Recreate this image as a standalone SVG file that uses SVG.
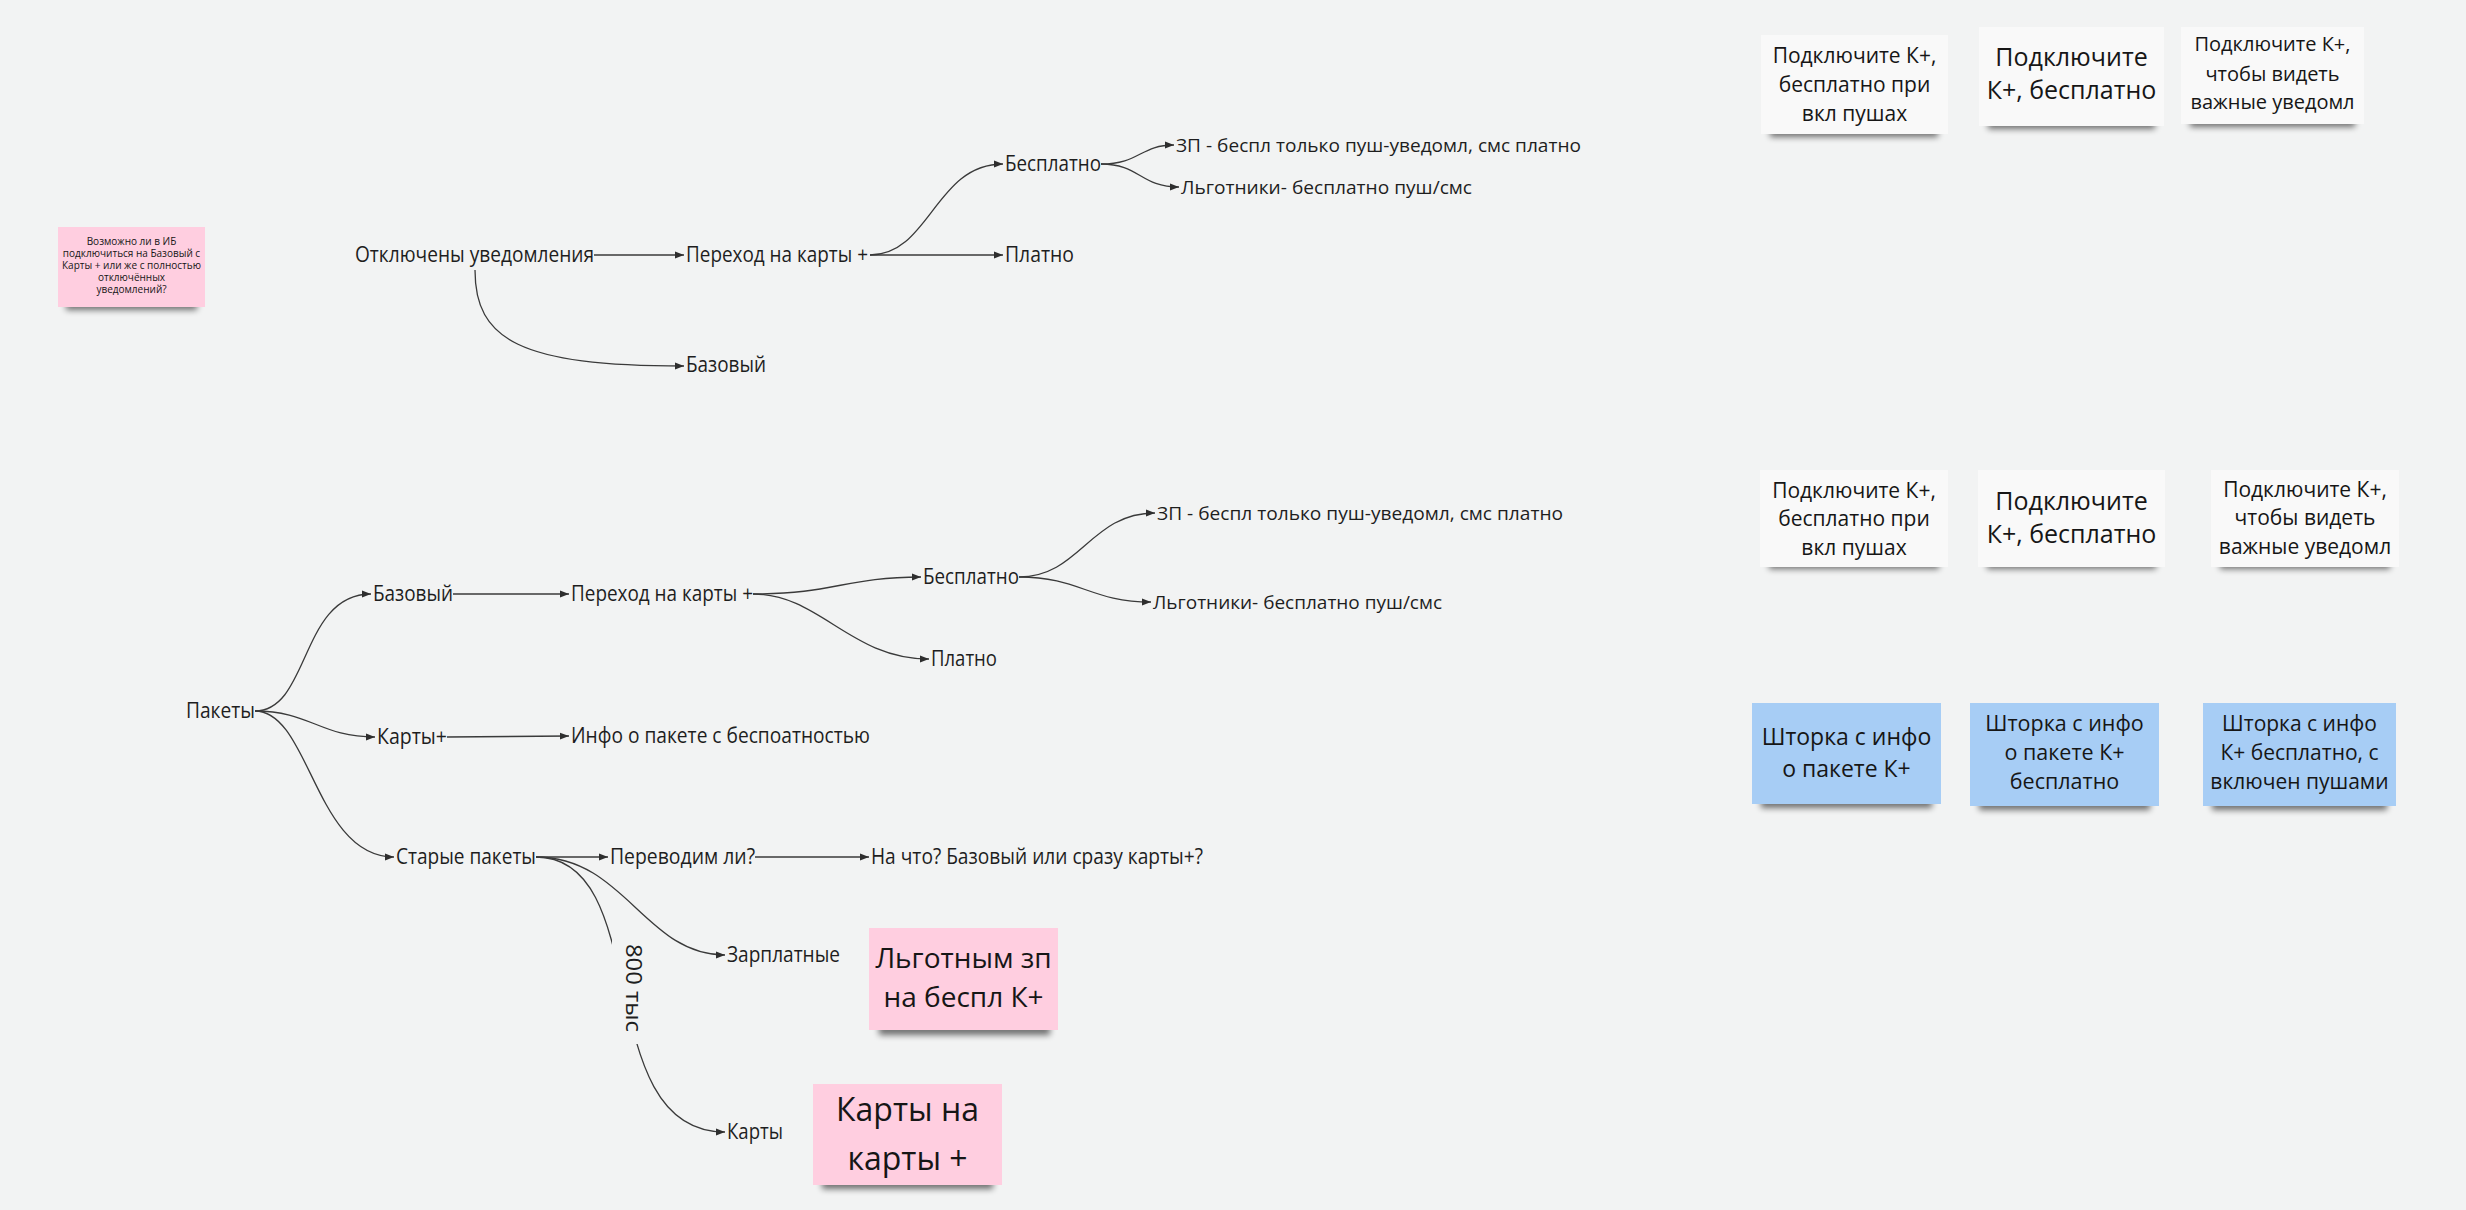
<svg xmlns="http://www.w3.org/2000/svg" width="2466" height="1210" viewBox="0 0 2466 1210">
<style>
.bg{fill:#f2f3f3}
.l{font-family:"Open Sans","Noto Sans",sans-serif;font-size:22px;fill:#1e1e1e}
.r{font-family:"Open Sans","Noto Sans",sans-serif;font-size:19px;fill:#1e1e1e}
.t{font-family:"Open Sans","Noto Sans",sans-serif;fill:#161616;text-anchor:middle}
.c{fill:none;stroke:#3a3a3a;stroke-width:1.3}
.a{marker-end:url(#ah)}
.w{fill:#f9f9f9}
.p{fill:#ffcee0}
.b{fill:#a7cdf5}
.s{fill:#000;opacity:.55;filter:url(#blur)}
</style>
<defs>
<marker id="ah" markerUnits="userSpaceOnUse" markerWidth="10" markerHeight="8" refX="9" refY="4" orient="auto"><path d="M0,0.6 L9,4 L0,7.4 z" fill="#2e2e2e"/></marker>
<filter id="blur" x="-20%" y="-100%" width="140%" height="300%"><feGaussianBlur stdDeviation="3"/></filter>
</defs>
<rect class="bg" x="0" y="0" width="2466" height="1210"/>

<g id="connectors">
<path class="c a" d="M594 255 L684 255"/>
<path class="c a" d="M870 255 C930 255 935 164 1003 164"/>
<path class="c a" d="M870 255 L1003 255"/>
<path class="c a" d="M475 270 C475 340 520 366 684 366"/>
<path class="c a" d="M1101 164 C1140 164 1140 145 1174 145"/>
<path class="c a" d="M1101 164 C1140 164 1140 187 1179 187"/>

<path class="c a" d="M255 711 C310 711 300 594 371 594"/>
<path class="c a" d="M255 711 C310 711 320 737 375 737"/>
<path class="c a" d="M255 711 C310 711 315 857 394 857"/>
<path class="c a" d="M453 594 L569 594"/>
<path class="c a" d="M753 594 C835 594 845 577 921 577"/>
<path class="c a" d="M753 594 C820 594 850 659 929 659"/>
<path class="c a" d="M1019 577 C1080 577 1090 513 1155 513"/>
<path class="c a" d="M1019 577 C1080 577 1090 602 1151 602"/>
<path class="c a" d="M447 737 L569 736"/>
<path class="c a" d="M536 857 L608 857"/>
<path class="c a" d="M755 857 L869 857"/>
<path class="c a" d="M536 857 C625 857 645 955 725 955"/>
<path class="c a" d="M536 857 C655 857 590 1132 725 1132"/>
<rect class="bg" x="612" y="936" width="38" height="108"/>
<text class="l" transform="translate(626,988) rotate(90)" text-anchor="middle" textLength="88" lengthAdjust="spacingAndGlyphs">800 тыс</text>
</g>

<g id="n-question">
<rect class="s" x="66" y="301" width="131" height="9"/>
<rect class="p" x="58" y="227" width="147" height="80"/>
<text class="t" font-size="10" x="131.5"><tspan x="131.5" y="245">Возможно ли в ИБ</tspan><tspan x="131.5" y="257">подключиться на Базовый с</tspan><tspan x="131.5" y="268.5">Карты + или же с полностью</tspan><tspan x="131.5" y="280.5">отключённых</tspan><tspan x="131.5" y="293">уведомлений?</tspan></text>
</g>

<g id="n-off"><text class="l" x="355" y="262" textLength="239" lengthAdjust="spacingAndGlyphs">Отключены уведомления</text></g>
<g id="n-go1"><text class="l" x="686" y="262" textLength="182" lengthAdjust="spacingAndGlyphs">Переход на карты +</text></g>
<g id="n-free1"><text class="l" x="1005" y="171" textLength="96" lengthAdjust="spacingAndGlyphs">Бесплатно</text></g>
<g id="n-paid1"><text class="l" x="1005" y="262" textLength="69" lengthAdjust="spacingAndGlyphs">Платно</text></g>
<g id="n-base1"><text class="l" x="686" y="372" textLength="80" lengthAdjust="spacingAndGlyphs">Базовый</text></g>
<g id="n-zp1"><text class="r" x="1176" y="152" textLength="405" lengthAdjust="spacingAndGlyphs">ЗП - беспл только пуш-уведомл, смс платно</text></g>
<g id="n-lg1"><text class="r" x="1181" y="194" textLength="291" lengthAdjust="spacingAndGlyphs">Льготники- бесплатно пуш/смс</text></g>

<g id="n-pack"><text class="l" x="186" y="718" textLength="69" lengthAdjust="spacingAndGlyphs">Пакеты</text></g>
<g id="n-base2"><text class="l" x="373" y="601" textLength="80" lengthAdjust="spacingAndGlyphs">Базовый</text></g>
<g id="n-go2"><text class="l" x="571" y="601" textLength="182" lengthAdjust="spacingAndGlyphs">Переход на карты +</text></g>
<g id="n-free2"><text class="l" x="923" y="584" textLength="96" lengthAdjust="spacingAndGlyphs">Бесплатно</text></g>
<g id="n-paid2"><text class="l" x="931" y="666" textLength="66" lengthAdjust="spacingAndGlyphs">Платно</text></g>
<g id="n-zp2"><text class="r" x="1157" y="520" textLength="406" lengthAdjust="spacingAndGlyphs">ЗП - беспл только пуш-уведомл, смс платно</text></g>
<g id="n-lg2"><text class="r" x="1153" y="609" textLength="289" lengthAdjust="spacingAndGlyphs">Льготники- бесплатно пуш/смс</text></g>
<g id="n-cards"><text class="l" x="377" y="744" textLength="70" lengthAdjust="spacingAndGlyphs">Карты+</text></g>
<g id="n-info"><text class="l" x="571" y="743" textLength="299" lengthAdjust="spacingAndGlyphs">Инфо о пакете с беспоатностью</text></g>
<g id="n-old"><text class="l" x="396" y="864" textLength="140" lengthAdjust="spacingAndGlyphs">Старые пакеты</text></g>
<g id="n-move"><text class="l" x="610" y="864" textLength="145" lengthAdjust="spacingAndGlyphs">Переводим ли?</text></g>
<g id="n-what"><text class="l" x="871" y="864" textLength="332" lengthAdjust="spacingAndGlyphs">На что? Базовый или сразу карты+?</text></g>
<g id="n-salary"><text class="l" x="727" y="962" textLength="113" lengthAdjust="spacingAndGlyphs">Зарплатные</text></g>
<g id="n-cards2"><text class="l" x="727" y="1139" textLength="56" lengthAdjust="spacingAndGlyphs">Карты</text></g>

<g id="s-w1">
<rect class="s" x="1770" y="128" width="168" height="9"/>
<rect class="w" x="1761" y="35" width="187" height="99"/>
<text class="t" font-size="21"><tspan x="1854.5" y="63">Подключите К+,</tspan><tspan x="1854.5" y="92">бесплатно при</tspan><tspan x="1854.5" y="121">вкл пушах</tspan></text>
</g>
<g id="s-w2">
<rect class="s" x="1988" y="120" width="167" height="9"/>
<rect class="w" x="1979" y="27" width="185" height="99"/>
<text class="t" font-size="25"><tspan x="2071.5" y="66">Подключите</tspan><tspan x="2071.5" y="99">К+, бесплатно</tspan></text>
</g>
<g id="s-w3">
<rect class="s" x="2190" y="118" width="165" height="9"/>
<rect class="w" x="2181" y="27" width="183" height="97"/>
<text class="t" font-size="20"><tspan x="2272.5" y="51">Подключите К+,</tspan><tspan x="2272.5" y="81">чтобы видеть</tspan><tspan x="2272.5" y="109">важные уведомл</tspan></text>
</g>

<g id="s-w4">
<rect class="s" x="1769" y="560" width="170" height="9"/>
<rect class="w" x="1760" y="470" width="188" height="97"/>
<text class="t" font-size="21"><tspan x="1854" y="498">Подключите К+,</tspan><tspan x="1854" y="526">бесплатно при</tspan><tspan x="1854" y="555">вкл пушах</tspan></text>
</g>
<g id="s-w5">
<rect class="s" x="1987" y="560" width="169" height="9"/>
<rect class="w" x="1978" y="470" width="187" height="97"/>
<text class="t" font-size="25"><tspan x="2071.5" y="510">Подключите</tspan><tspan x="2071.5" y="543">К+, бесплатно</tspan></text>
</g>
<g id="s-w6">
<rect class="s" x="2220" y="560" width="170" height="9"/>
<rect class="w" x="2211" y="470" width="188" height="97"/>
<text class="t" font-size="21"><tspan x="2305" y="497">Подключите К+,</tspan><tspan x="2305" y="525">чтобы видеть</tspan><tspan x="2305" y="554">важные уведомл</tspan></text>
</g>

<g id="s-b1">
<rect class="s" x="1761" y="798" width="171" height="10"/>
<rect class="b" x="1752" y="703" width="189" height="101"/>
<text class="t" font-size="23"><tspan x="1846.5" y="745">Шторка с инфо</tspan><tspan x="1846.5" y="777">о пакете К+</tspan></text>
</g>
<g id="s-b2">
<rect class="s" x="1979" y="800" width="171" height="10"/>
<rect class="b" x="1970" y="703" width="189" height="103"/>
<text class="t" font-size="21.5"><tspan x="2064.5" y="731">Шторка с инфо</tspan><tspan x="2064.5" y="760">о пакете К+</tspan><tspan x="2064.5" y="789">бесплатно</tspan></text>
</g>
<g id="s-b3">
<rect class="s" x="2212" y="800" width="175" height="10"/>
<rect class="b" x="2203" y="703" width="193" height="103"/>
<text class="t" font-size="21"><tspan x="2299.5" y="731">Шторка с инфо</tspan><tspan x="2299.5" y="760">К+ бесплатно, с</tspan><tspan x="2299.5" y="789">включен пушами</tspan></text>
</g>

<g id="s-p1">
<rect class="s" x="879" y="1025" width="171" height="10"/>
<rect class="p" x="869" y="928" width="189" height="102"/>
<text class="t" font-size="28"><tspan x="963.5" y="968">Льготным зп</tspan><tspan x="963.5" y="1007">на беспл К+</tspan></text>
</g>
<g id="s-p2">
<rect class="s" x="822" y="1179" width="171" height="10"/>
<rect class="p" x="813" y="1084" width="189" height="101"/>
<text class="t" font-size="32"><tspan x="907.5" y="1121">Карты на</tspan><tspan x="907.5" y="1170">карты +</tspan></text>
</g>
</svg>
